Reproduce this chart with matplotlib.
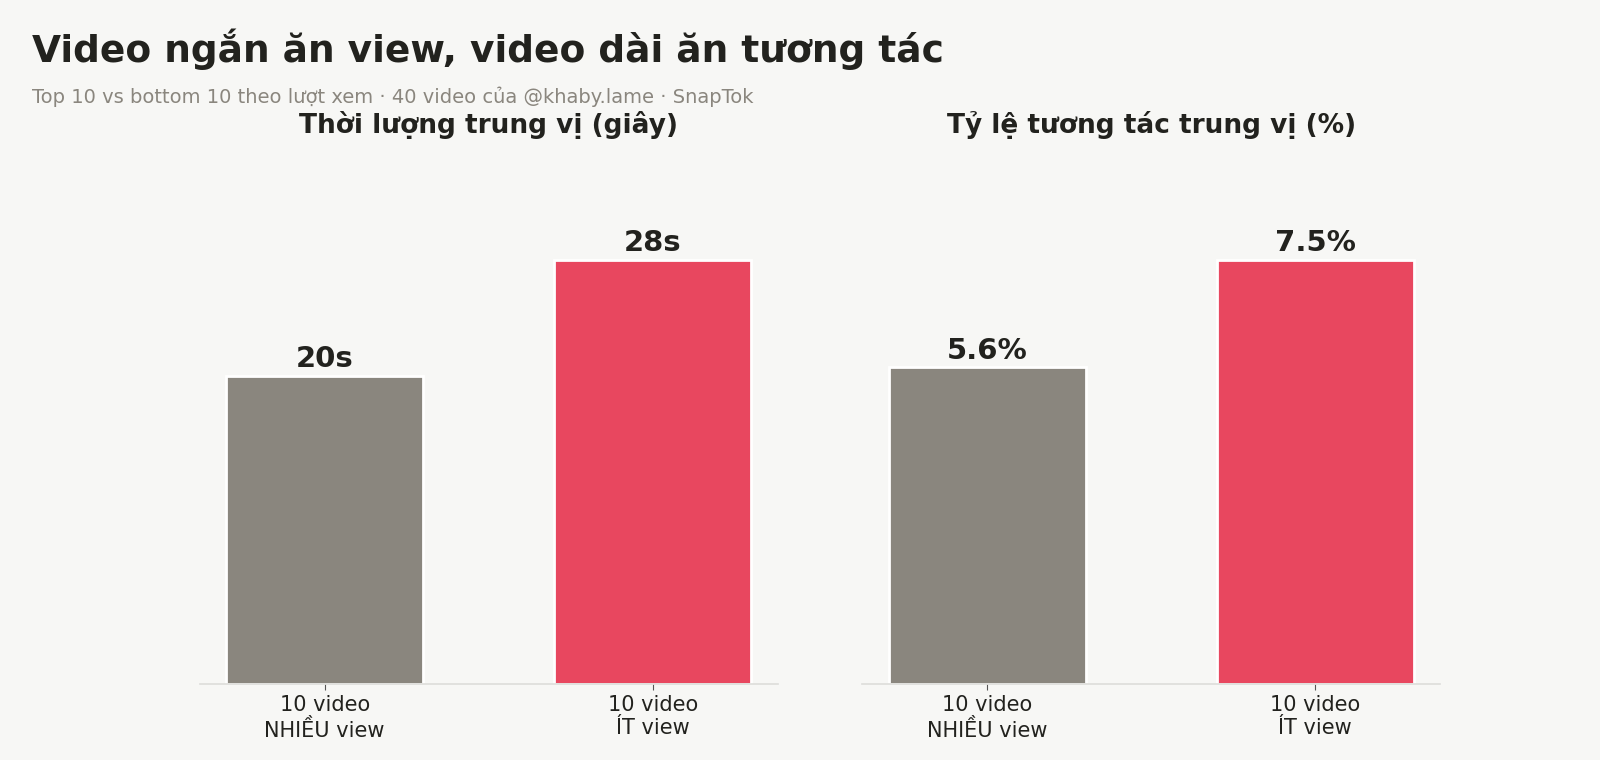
import matplotlib
matplotlib.use("Agg")
import matplotlib.pyplot as plt

# Data
groups = ["10 video\nNHIỀU view", "10 video\nÍT view"]
duration_median = [20.0, 27.5]
engagement_median = [5.6, 7.5]
duration_labels = ["20s", "28s"]
engagement_labels = ["5.6%", "7.5%"]
panel_titles = ["Thời lượng trung vị (giây)", "Tỷ lệ tương tác trung vị (%)"]

BG = "#F7F7F5"
DARK = "#22221E"
GREY = "#8A867E"
RED = "#E8475F"
colors = [GREY, RED]

plt.rcParams["font.family"] = ["DejaVu Sans"]

fig = plt.figure(figsize=(16, 7.6), dpi=100, facecolor=BG)
ax1 = fig.add_axes([0.125, 0.1, 0.361, 0.714])
ax2 = fig.add_axes([0.539, 0.1, 0.361, 0.714])

for ax, vals, labs, title in [
    (ax1, duration_median, duration_labels, panel_titles[0]),
    (ax2, engagement_median, engagement_labels, panel_titles[1]),
]:
    ax.set_facecolor(BG)
    x = list(range(len(groups)))
    bars = ax.bar(x, vals, width=0.6, color=colors, edgecolor="white", linewidth=2)
    ax.set_ylim(0, max(vals) * 1.28)
    for b, lab in zip(bars, labs):
        ax.annotate(lab, (b.get_x() + b.get_width() / 2, b.get_height()),
                    xytext=(0, 2), textcoords="offset points",
                    ha="center", va="bottom", fontsize=21, fontweight="bold", color=DARK)
    ax.set_xticks(x)
    ax.set_xticklabels(groups, fontsize=15, color=DARK)
    ax.tick_params(axis="x", length=4, width=0.8, color="#555555", pad=4)
    ax.set_yticks([])
    for s in ["top", "right", "left"]:
        ax.spines[s].set_visible(False)
    ax.spines["bottom"].set_color("#DDDDDA")
    ax.spines["bottom"].set_linewidth(1.2)
    ax.set_title(title, fontsize=19, fontweight="bold", color=DARK, pad=6)

fig.text(0.02, 0.918, "Video ngắn ăn view, video dài ăn tương tác",
         fontsize=27, fontweight="bold", color=DARK, ha="left", va="baseline")
fig.text(0.02, 0.864, "Top 10 vs bottom 10 theo lượt xem · 40 video của @khaby.lame · SnapTok",
         fontsize=14, color=GREY, ha="left", va="baseline")

fig.savefig("out.png", dpi=100, facecolor=BG)
